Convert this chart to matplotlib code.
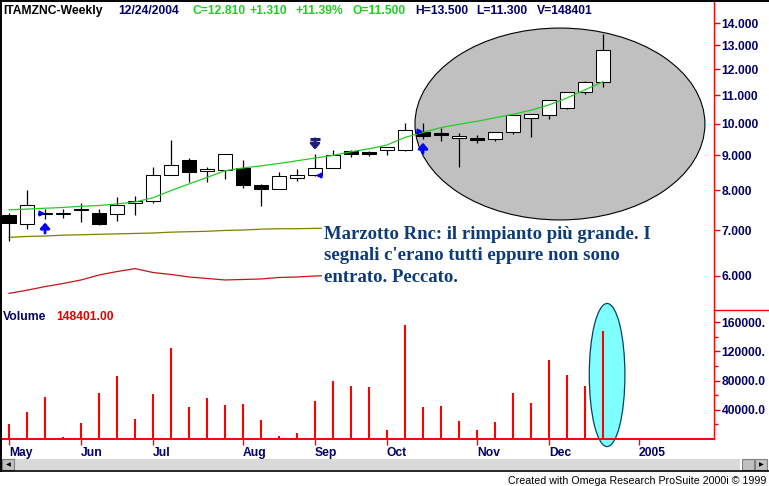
import numpy as np
import matplotlib
matplotlib.use("Agg")
import matplotlib.pyplot as plt
from matplotlib.patches import Rectangle, Ellipse
from matplotlib.lines import Line2D
import matplotlib.transforms as mtransforms

# ITAMZNC weekly bars, week ending 05/07/2004 ... 12/24/2004
opens = [7.36, 7.15, 7.38, 7.39, 7.49, 7.40, 7.38, 7.66, 7.71, 8.41, 8.86, 8.52,
         8.55, 8.61, 8.15, 8.04, 8.33, 8.41, 8.61, 9.13, 9.08, 9.17, 9.14, 9.73,
         9.69, 9.53, 9.52, 9.49, 9.71, 10.19, 10.28, 10.53, 11.11, 11.50]
highs = [7.40, 8.01, 7.50, 7.50, 7.66, 7.52, 7.81, 7.85, 8.65, 9.47, 8.91, 8.64,
         9.04, 8.86, 8.17, 8.49, 8.58, 9.04, 9.16, 9.14, 9.13, 9.25, 10.01, 10.01,
         9.85, 9.69, 9.63, 9.73, 10.30, 10.33, 10.83, 11.12, 11.54, 13.50]
lows = [6.75, 7.02, 7.26, 7.29, 7.20, 7.12, 7.22, 7.35, 7.66, 8.41, 8.21, 8.21,
        8.31, 8.05, 7.59, 8.03, 8.25, 8.40, 8.61, 8.95, 8.98, 9.00, 9.13, 9.49,
        9.45, 8.64, 9.38, 9.42, 9.66, 9.56, 10.15, 10.52, 11.05, 11.30]
closes = [7.16, 7.61, 7.40, 7.41, 7.51, 7.15, 7.61, 7.72, 8.42, 8.71, 8.50, 8.58,
          9.04, 8.15, 8.04, 8.39, 8.41, 8.61, 9.00, 9.03, 9.03, 9.24, 9.78, 9.60,
          9.62, 9.60, 9.46, 9.72, 10.29, 10.32, 10.82, 11.11, 11.50, 12.81]
volumes = [20500, 36900, 57400, 2700, 21900, 62900, 86200, 27400, 61500, 124500,
           43800, 56100, 46500, 47900, 26000, 4100, 8200, 52000, 79300, 72500,
           71100, 12300, 155900, 43800, 45100, 24600, 12300, 23300, 62900, 49200,
           108100, 87500, 72500, 148401]

# moving average (green)
ma_fast = [7.49, 7.51, 7.53, 7.55, 7.58, 7.60, 7.64, 7.69, 7.80, 7.99, 8.17, 8.35,
           8.54, 8.62, 8.68, 8.75, 8.83, 8.91, 8.99, 9.10, 9.19, 9.31, 9.55, 9.71,
           9.87, 9.98, 10.08, 10.20, 10.32, 10.46, 10.65, 10.90, 11.20, 11.51]
# the two lower lines, visible only up to the comment box
ma_slow = [6.83, 6.85, 6.86, 6.88, 6.89, 6.90, 6.91, 6.92, 6.93, 6.95, 6.96, 6.97,
           6.99, 7.00, 7.02, 7.03, 7.03, 7.04, 7.04]
osc_line = [5.66, 5.72, 5.79, 5.85, 5.92, 6.02, 6.09, 6.15, 6.07, 6.03, 5.98, 5.95,
            5.92, 5.93, 5.94, 5.97, 5.98, 6.00, 6.01]

buy_bars = [2, 23]
sell_bars = [17]
entry_marks = [(2, 7.40, '>'), (23, 9.76, '>'), (17, 8.41, '<')]

month_idx = [0, 4, 8, 13, 17, 21, 26, 30, 35]
month_labels = ['May', 'Jun', 'Jul', 'Aug', 'Sep', 'Oct', 'Nov', 'Dec', '2005']
price_ticks = [6, 7, 8, 9, 10, 11, 12, 13, 14]
vol_ticks = [40000, 80000, 120000, 160000]
# the scale labels as they show, cut by the window edge
vol_labels = ['40000.0', '80000.0', '120000.', '160000.']
vol_minor = [20000, 60000, 100000, 140000]

W, H = 769, 486
NAVY = '#000066'
GREEN = '#22cc22'
UI = 'Liberation Sans'

plt.rcParams['font.family'] = 'DejaVu Sans'
fig = plt.figure(figsize=(W / 100, H / 100), dpi=100)
fig.patch.set_facecolor('white')
pix = mtransforms.Affine2D().scale(1, -1).translate(0, H)


def fig_box(x0, y0, x1, y1):
    return [x0 / W, 1 - y1 / H, (x1 - x0) / W, (y1 - y0) / H]


ax = fig.add_axes(fig_box(2, 0, 714, 310))
axv = fig.add_axes(fig_box(2, 310, 714, 439), sharex=ax)

x = np.arange(len(closes))

# ---- price panel
ax.set_yscale('log')
ax.set_ylim(5.353, 15.14)
ax.set_xlim(-0.39, 39.17)
for s in ['top', 'left', 'bottom']:
    ax.spines[s].set_visible(False)
ax.spines['right'].set_color('red')
ax.spines['right'].set_linewidth(1.0)
ax.yaxis.tick_right()
ax.yaxis.set_minor_locator(matplotlib.ticker.NullLocator())
ax.set_yticks(price_ticks, [f'{t:.3f}' for t in price_ticks])
ax.tick_params(axis='y', colors='red', labelcolor=NAVY, length=4.5, width=1, pad=1)
ax.tick_params(axis='x', bottom=False, labelbottom=False)
for lbl in ax.get_yticklabels():
    lbl.set_fontfamily(UI)
    lbl.set_fontweight('bold')
    lbl.set_fontsize(8.7)

ax.add_patch(Ellipse((30.61, 0.6), 16.11, 0.619, transform=ax.get_xaxis_transform(),
                     facecolor='#c0c0c0', edgecolor='black', lw=0.8, zorder=1))

ax.vlines(x, lows, highs, color='black', lw=0.9, zorder=3)
for i in x:
    o, c = opens[i], closes[i]
    face = 'white' if c >= o else 'black'
    ax.add_patch(Rectangle((i - 0.39, min(o, c)), 0.78, abs(c - o), facecolor=face,
                           edgecolor='black', lw=0.75, zorder=4))

ax.plot(x, ma_fast, color=GREEN, lw=0.9, zorder=5)
ax.plot(x[:len(ma_slow)], ma_slow, color='#808000', lw=0.9, zorder=2)
ax.plot(x[:len(osc_line)], osc_line, color='#c81414', lw=0.9, zorder=2)

arrow = dict(arrowstyle='-|>,head_width=0.28,head_length=0.32', lw=2.0,
             shrinkA=0, mutation_scale=10)
for i in buy_bars:
    ax.annotate('', xy=(i, lows[i]), xytext=(0, -14), textcoords='offset pixels',
                arrowprops=dict(arrow, color='#0000ff', shrinkB=2.5), zorder=6)
for i in sell_bars:
    ax.annotate('', xy=(i, highs[i]), xytext=(0, 15), textcoords='offset pixels',
                arrowprops=dict(arrow, color='#1c1c7a', shrinkB=3), zorder=6)
    up = mtransforms.offset_copy(ax.transData, fig=fig, x=0, y=14.5, units='dots')
    ax.plot([i], [highs[i]], marker='_', ms=7, mew=2.2, color='#1c1c7a',
            transform=up, zorder=6)
for i, p, m in entry_marks:
    dx = -0.22 if m == '>' else 0.22
    ax.plot([i + dx], [p], marker=m, ms=3.5, color='#0000ff', mec='#0000ff', zorder=6)

# ---- volume panel
axv.set_ylim(0, 176450)
for s in ['top', 'left']:
    axv.spines[s].set_visible(False)
axv.spines['right'].set_color('red')
axv.spines['right'].set_linewidth(1.0)
axv.spines['bottom'].set_color('red')
axv.spines['bottom'].set_linewidth(1.4)
axv.yaxis.tick_right()
axv.set_yticks(vol_ticks, vol_labels)
axv.set_yticks(vol_minor, minor=True)
axv.tick_params(axis='y', which='major', colors='red', labelcolor=NAVY, length=4.5,
                width=1, pad=1)
axv.tick_params(axis='y', which='minor', colors='red', length=3, width=1)
for lbl in axv.get_yticklabels():
    lbl.set_fontfamily(UI)
    lbl.set_fontweight('bold')
    lbl.set_fontsize(8.7)
axv.set_xticks(month_idx, month_labels)
axv.tick_params(axis='x', colors='red', labelcolor=NAVY, length=4.5, width=1, pad=1.5)
for lbl in axv.get_xticklabels():
    lbl.set_ha('left')
    lbl.set_fontfamily(UI)
    lbl.set_fontweight('bold')
    lbl.set_fontsize(8.7)

axv.add_patch(Ellipse((33.23, 0.496), 1.98, 1.109, transform=axv.get_xaxis_transform(),
                      facecolor='#80ffff', edgecolor='#06406a', lw=0.9, zorder=1,
                      clip_on=False))
axv.vlines(x, 0, volumes, color='#ff0000', lw=1.5, zorder=3)

# ---- header texts
hy = 1 - 10.7 / H


def head(xp, s, col):
    fig.text(xp / W, hy, s, color=col, fontfamily=UI, fontweight='bold',
             fontsize=8.7, va='center', ha='left')


head(3.3, 'ITAMZNC-Weekly', 'black')
head(118.3, '12/24/2004', NAVY)
head(192.7, 'C=12.810', GREEN)
head(250, '+1.310', GREEN)
head(296, '+11.39%', GREEN)
head(352.7, 'O=11.500', GREEN)
head(415, 'H=13.500', NAVY)
head(476.7, 'L=11.300', NAVY)
head(536.7, 'V=148401', NAVY)

fig.text(3.3 / W, 1 - 317.3 / H, 'Volume', color=NAVY, fontfamily=UI,
         fontweight='bold', fontsize=8.7, va='center')
fig.text(56 / W, 1 - 317.3 / H, '148401.00', color='#e00000', fontfamily=UI,
         fontweight='bold', fontsize=8.7, va='center')

# comment box
comment = ['Marzotto Rnc: il rimpianto più grande. I',
           "segnali c'erano tutti eppure non sono",
           'entrato. Peccato.']
for k, line in enumerate(comment):
    fig.text(323.5 / W, 1 - (239 + 21.5 * k) / H, line, color='#0d3b7a',
             fontfamily='Liberation Serif', fontweight='bold', fontsize=13.5,
             va='baseline', ha='left',
             bbox=dict(facecolor='white', edgecolor='none', pad=1.2))

# separator on the right scale between the panels
fig.add_artist(Line2D([714, W], [310, 310], color='red', lw=1.0, transform=pix))

# window frame and scroll bar
fig.add_artist(Line2D([0.5, 0.5], [0, 471], color='black', lw=1.4, transform=pix))
fig.add_artist(Line2D([0, W], [0.5, 0.5], color='black', lw=1.4, transform=pix))
fig.add_artist(Rectangle((2, 459), 738, 11, facecolor='#d9d9d9', edgecolor='none',
                         transform=pix))
for bx in [2, 742, 755]:
    fig.add_artist(Rectangle((bx, 459), 12, 11, facecolor='#c0c0c0',
                             edgecolor='#808080', lw=0.8, transform=pix))
fig.text(8 / W, 1 - 464.5 / H, '\u25c0', fontsize=4.5, ha='center', va='center',
         color='black')
fig.text(761 / W, 1 - 464.5 / H, '\u25b6', fontsize=4.5, ha='center', va='center',
         color='black')
fig.add_artist(Line2D([0, W], [471, 471], color='black', lw=1.2, transform=pix))

fig.text(766 / W, 1 - 480.5 / H, 'Created with Omega Research ProSuite 2000i \u00a9 1999',
         fontfamily=UI, fontsize=7.7, ha='right', va='center', color='black')

fig.savefig('out.png', dpi=100)
